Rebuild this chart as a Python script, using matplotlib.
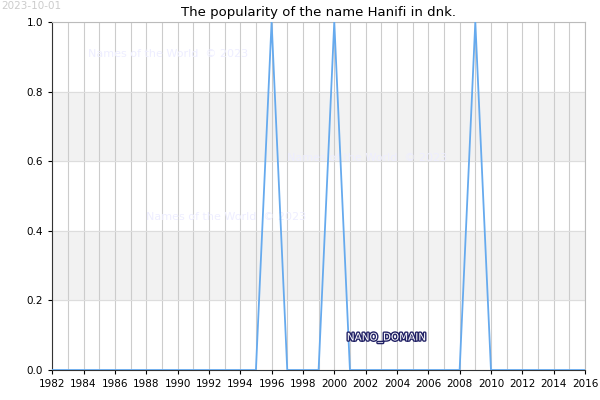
import matplotlib
matplotlib.use("Agg")
import matplotlib.pyplot as plt
import matplotlib.patheffects as pe

years = list(range(1982, 2017))
peak_years = [1996, 2000, 2009]
values = [1.0 if y in peak_years else 0.0 for y in years]
xticks = list(range(1982, 2017, 2))
yticks = [0.0, 0.2, 0.4, 0.6, 0.8, 1.0]

fig = plt.figure(figsize=(6, 4), dpi=100)
ax = fig.add_axes([0.087, 0.075, 0.888, 0.87])

for lo, hi in [(0.2, 0.4), (0.6, 0.8)]:
    ax.axhspan(lo, hi, color="#f2f2f2", zorder=0)
for y in years:
    ax.axvline(y, color="#cccccc", lw=0.8, zorder=1)
for v in yticks:
    ax.axhline(v, color="#dddddd", lw=0.8, zorder=1)

ax.plot(years, values, color="#66aaee", lw=1.3, zorder=3)

ax.set_xlim(1982, 2016)
ax.set_ylim(0, 1)
ax.set_xticks(xticks)
ax.set_yticks(yticks)
ax.set_yticklabels([f"{v:.1f}" for v in yticks])
ax.tick_params(labelsize=7.5, length=3)
for name, s in ax.spines.items():
    s.set_color("#333333" if name in ("left", "bottom") else "#bbbbbb")
ax.set_title("The popularity of the name Hanifi in dnk.", fontsize=9.5, pad=4)

wm = dict(color="#eeeeff", fontsize=8, transform=ax.transData, zorder=2)
ax.text(1984.3, 0.9, "Names of the World  © 2023", **wm)
ax.text(1988.0, 0.43, "Names of the World  © 2023", **wm)
ax.text(1997.0, 0.6, "Names of the World  © 2023", **wm)
fig.text(0.002, 0.985, "2023-10-01", color="#cccccc", fontsize=7.5, va="center")
ax.text(2000.8, 0.085, "NANO_DOMAIN", fontsize=7.5, color="#ffffff", zorder=4,
        path_effects=[pe.withStroke(linewidth=2, foreground="#222266")])

fig.savefig("out.png")
